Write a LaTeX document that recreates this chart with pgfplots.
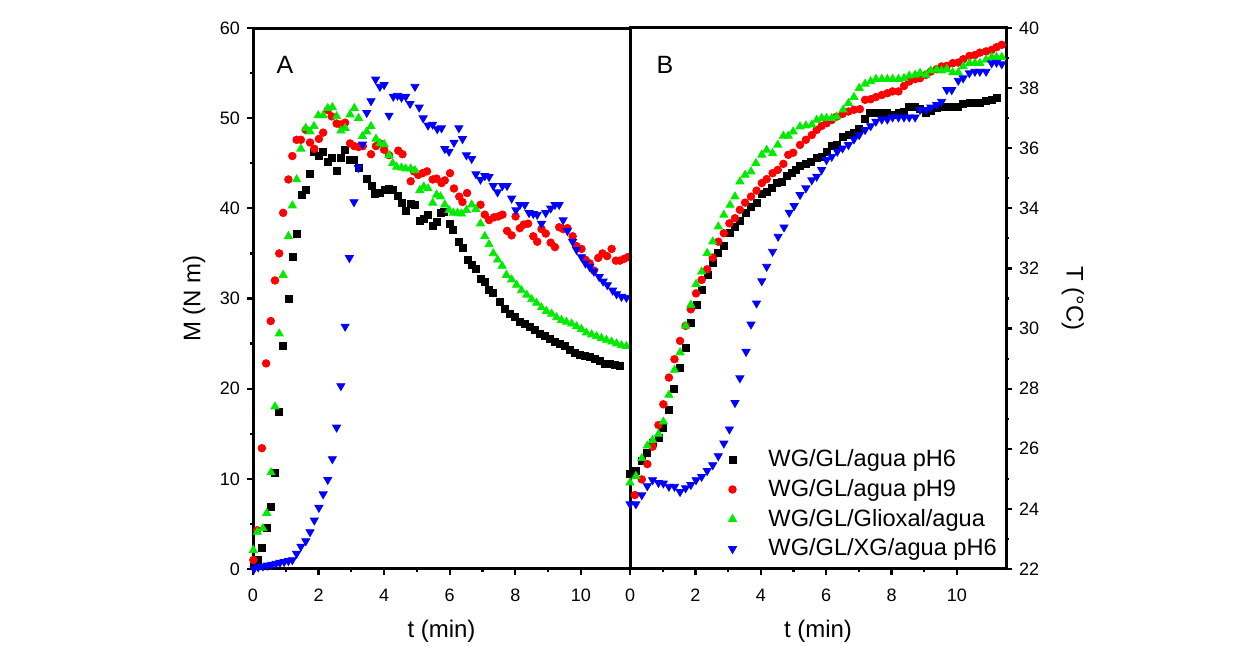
\documentclass[border=0pt]{standalone}
\usepackage{fontspec}
\setmainfont{Liberation Sans}
\usepackage{pgfplots}
\pgfplotsset{compat=1.18}
\definecolor{cgreen}{RGB}{0,235,0}
\definecolor{cred}{RGB}{255,0,0}
\definecolor{cblue}{RGB}{0,0,255}
\pgfplotsset{
  panel/.style={
    scale only axis, height=270.5pt,
    xmin=0, xmax=11.5, xtick={0,2,...,10}, minor x tick num=1,
    tick align=outside, xtick pos=left,
    major tick length=3pt, minor tick length=1.6pt,
    every tick/.style={black, line width=1.1pt},
    axis line style={line width=1.5pt},
    tick label style={font=\fontsize{9}{10}\selectfont, /pgf/number format/assume math mode=true},
    xticklabel style={yshift=-3.5pt},
    label style={font=\fontsize{12}{14}\selectfont},
    xlabel={t (min)},
    xlabel style={at={(axis description cs:0.5,-0.115)}, anchor=center},
    clip=true,
  },
  sq/.style={only marks, mark=square*, mark size=1.75pt, black, mark options={draw=black, fill=black}},
  ci/.style={only marks, mark=*, mark size=1.9pt, cred, mark options={draw=cred, fill=cred}},
  tu/.style={only marks, mark=triangle*, mark size=2.3pt, cgreen, mark options={draw=cgreen, fill=cgreen}},
  td/.style={only marks, mark=triangle*, mark size=2.3pt, cblue, mark options={draw=cblue, fill=cblue, rotate=180}},
}
\begin{document}
\begin{tikzpicture}
\path[use as bounding box] (0,0) rectangle (617.5pt,323pt);
% ---------------- Panel A ----------------
\begin{axis}[panel, at={(126.5pt,38.5pt)}, anchor=south west, width=188.5pt,
  ymin=0, ymax=60, ytick={0,10,...,60}, minor y tick num=1, ytick pos=left,
  ylabel={M (N m)},
  ylabel style={at={(axis description cs:-0.156,0.5)}, anchor=center},
]
\addplot[sq] coordinates {
(0.03,0.4) (0.16,1.0) (0.27,2.3) (0.42,4.6) (0.54,6.9) (0.67,10.7) (0.80,17.4) (0.92,24.7)
(1.08,30.0) (1.21,34.6) (1.33,37.2) (1.48,41.5) (1.62,42.0) (1.74,43.8) (1.86,46.3) (2.01,45.8)
(2.14,46.3) (2.28,45.2) (2.42,45.6) (2.55,44.1) (2.68,45.6) (2.81,46.5) (2.96,45.4) (3.09,45.4)
(3.22,44.5) (3.47,43.3) (3.62,42.5) (3.72,41.6) (3.87,41.7) (4.02,42.0) (4.16,42.2) (4.28,42.0)
(4.41,41.4) (4.55,40.6) (4.66,39.7) (4.81,40.5) (4.94,40.4) (5.09,38.6) (5.21,38.8) (5.34,39.3)
(5.48,38.0) (5.60,38.5) (5.72,39.5) (5.83,39.6) (6.01,38.3) (6.11,37.6) (6.29,36.3) (6.39,35.6)
(6.55,34.3) (6.67,33.7) (6.80,33.3) (6.94,32.2) (7.07,31.8) (7.20,30.9) (7.33,30.6) (7.53,29.6)
(7.68,28.9) (7.84,28.3) (7.99,28.0) (8.14,27.4) (8.29,27.2) (8.45,26.9) (8.60,26.5) (8.75,26.1)
(8.90,25.8) (9.05,25.5) (9.21,25.2) (9.36,25.0) (9.51,24.7) (9.66,24.3) (9.82,24.0) (9.97,23.8)
(10.12,23.6) (10.27,23.5) (10.43,23.3) (10.58,23.1) (10.73,22.8) (10.88,22.7) (11.04,22.6) (11.19,22.5)
};
\addplot[ci] coordinates {
(0.01,1.0) (0.13,4.3) (0.27,13.4) (0.40,22.8) (0.54,27.5) (0.67,32.0) (0.80,35.0) (0.92,39.5)
(1.08,43.2) (1.20,45.8) (1.33,47.6) (1.46,47.6) (1.61,48.7) (1.74,47.3) (1.87,46.6) (2.01,47.7)
(2.14,48.4) (2.28,50.9) (2.40,50.2) (2.55,49.4) (2.68,49.3) (2.81,49.5) (2.96,47.2) (3.09,46.9)
(3.22,46.8) (3.35,46.9) (3.60,46.0) (3.75,46.9) (3.87,47.2) (4.00,46.5) (4.15,45.9) (4.43,46.4)
(4.56,46.0) (4.81,43.0) (4.91,44.1) (5.04,43.7) (5.17,43.9) (5.31,44.1) (5.48,43.2) (5.60,43.3)
(5.75,42.8) (5.85,43.1) (6.01,43.9) (6.13,42.2) (6.29,41.3) (6.39,40.7) (6.53,41.7) (6.94,40.4)
(7.07,39.3) (7.20,38.7) (7.35,39.0) (7.48,39.1) (7.61,39.3) (7.75,37.5) (7.89,37.0) (8.01,39.1)
(8.14,37.8) (8.26,38.2) (8.39,38.3) (8.55,36.9) (8.67,36.3) (8.80,37.7) (8.93,37.2) (9.08,36.2)
(9.21,35.7) (9.34,37.9) (9.46,37.7) (9.59,37.8) (9.75,36.9) (9.87,35.8) (10.02,35.5) (10.14,34.3)
(10.27,33.9) (10.40,33.1) (10.53,34.5) (10.66,35.0) (10.80,34.7) (10.94,35.5) (11.07,34.2) (11.19,34.2)
(11.32,34.4) (11.44,34.6)
};
\addplot[tu] coordinates {
(0.01,2.1) (0.13,4.1) (0.30,4.5) (0.42,6.2) (0.55,10.7) (0.67,18.0) (0.80,26.1) (0.92,32.6)
(1.08,36.9) (1.20,40.3) (1.33,43.2) (1.46,46.6) (1.61,48.9) (1.74,48.5) (1.86,49.1) (1.99,50.3)
(2.14,50.3) (2.28,51.1) (2.42,51.2) (2.55,50.2) (2.68,48.6) (2.81,48.9) (2.96,50.4) (3.09,51.1)
(3.22,50.0) (3.34,48.0) (3.47,48.5) (3.60,49.1) (3.75,47.7) (3.87,47.2) (4.00,47.1) (4.15,45.9)
(4.26,45.0) (4.38,44.6) (4.53,44.5) (4.66,44.4) (4.81,44.4) (4.94,44.2) (5.09,42.0) (5.21,42.4)
(5.34,42.2) (5.48,40.6) (5.60,41.5) (5.72,41.3) (5.85,40.4) (5.98,39.8) (6.11,39.5) (6.24,39.5)
(6.36,39.4) (6.51,39.8) (6.67,40.4) (6.80,39.9) (6.94,38.3) (7.07,36.9) (7.20,36.0) (7.33,35.0)
(7.46,34.3) (7.60,33.6) (7.73,32.6) (7.89,32.1) (8.04,31.5) (8.19,30.9) (8.35,30.4) (8.50,29.9)
(8.65,29.5) (8.80,29.0) (8.95,28.6) (9.11,28.3) (9.26,27.9) (9.41,27.6) (9.56,27.4) (9.72,27.2)
(9.87,26.9) (10.02,26.6) (10.17,26.2) (10.33,26.0) (10.48,25.8) (10.63,25.6) (10.78,25.4) (10.94,25.2)
(11.09,25.0) (11.24,24.8) (11.39,24.7)
};
\addplot[td] coordinates {
(0.03,0.0) (0.16,0.2) (0.30,0.3) (0.44,0.4) (0.57,0.5) (0.70,0.6) (0.82,0.7) (0.95,0.8)
(1.08,0.9) (1.20,1.0) (1.33,1.7) (1.46,2.5) (1.61,3.1) (1.74,4.1) (1.87,5.4) (2.01,6.8)
(2.14,8.3) (2.28,9.9) (2.42,12.2) (2.55,15.7) (2.68,20.3) (2.81,26.9) (2.94,34.5) (3.08,40.7)
(3.21,44.5) (3.34,47.1) (3.47,50.6) (3.60,51.9) (3.74,54.3) (3.87,53.5) (4.00,53.7) (4.15,50.3)
(4.28,52.4) (4.41,52.5) (4.53,52.3) (4.66,52.4) (4.79,51.6) (4.94,53.5) (5.07,51.2) (5.19,50.0)
(5.34,49.2) (5.48,49.3) (5.62,48.8) (5.75,48.9) (5.85,46.6) (5.98,46.3) (6.13,47.3) (6.28,48.9)
(6.39,47.7) (6.51,45.9) (6.67,45.5) (6.80,43.8) (6.94,43.2) (7.07,43.6) (7.20,43.5) (7.33,42.5)
(7.46,41.8) (7.61,42.5) (7.75,42.5) (7.89,41.1) (8.02,39.8) (8.14,40.4) (8.29,40.4) (8.42,39.5)
(8.55,39.4) (8.67,39.3) (8.80,38.3) (8.93,39.5) (9.08,40.0) (9.21,40.4) (9.34,40.4) (9.46,38.7)
(9.59,37.5) (9.75,36.3) (9.87,35.4) (10.02,34.6) (10.14,33.9) (10.27,33.5) (10.40,33.0) (10.56,32.4)
(10.68,31.9) (10.81,31.5) (10.97,30.9) (11.09,30.5) (11.24,30.2) (11.39,30.1)
};
\node[font=\fontsize{12.5}{14}\selectfont] at (axis description cs:0.085,0.932) {A};
\end{axis}
% ---------------- Panel B ----------------
\begin{axis}[panel, at={(315pt,38.5pt)}, anchor=south west, width=188pt,
  ymin=22, ymax=40, ytick={22,24,...,40}, minor y tick num=1,
  ytick pos=right, yticklabel pos=right,
  ylabel={T (°C)},
  ylabel style={at={(axis description cs:1.178,0.5)}, anchor=center, rotate=180},
  legend style={at={(axis description cs:0.245,0.236)}, anchor=north west, draw=none, fill=none,
    font=\fontsize{11.8}{13}\selectfont, row sep=0.8pt,
    /tikz/every odd column/.append style={column sep=14pt}},
  legend cell align=left,
]
\addplot[sq] coordinates {
(0.00,25.18) (0.18,25.27) (0.36,25.60) (0.51,25.87) (0.69,26.18) (0.87,26.35) (1.02,26.68) (1.19,27.29)
(1.35,27.98) (1.53,28.68) (1.70,29.36) (1.86,30.18) (2.04,30.79) (2.19,31.30) (2.38,31.78) (2.53,32.17)
(2.70,32.51) (2.87,32.75) (3.06,33.17) (3.21,33.39) (3.36,33.58) (3.55,33.86) (3.70,34.06) (3.87,34.19)
(4.03,34.48) (4.18,34.56) (4.33,34.67) (4.49,34.86) (4.64,34.89) (4.79,35.08) (4.94,35.17) (5.08,35.28)
(5.20,35.41) (5.38,35.48) (5.54,35.55) (5.71,35.67) (5.86,35.72) (6.01,35.89) (6.17,36.08) (6.32,36.11)
(6.50,36.39) (6.68,36.44) (6.85,36.52) (7.01,36.63) (7.19,36.96) (7.34,37.18) (7.52,37.18) (7.70,37.18)
(7.87,37.18) (8.03,37.11) (8.21,37.16) (8.38,37.22) (8.54,37.36) (8.72,37.36) (8.87,37.30) (9.05,37.18)
(9.20,37.25) (9.38,37.33) (9.53,37.36) (9.69,37.36) (9.87,37.36) (10.04,37.36) (10.19,37.47) (10.38,37.50)
(10.55,37.50) (10.70,37.50) (10.89,37.57) (11.06,37.61) (11.21,37.68)
};
\addlegendentry{WG/GL/agua pH6}
\addplot[ci] coordinates {
(0.15,24.46) (0.36,24.98) (0.53,25.49) (0.69,26.07) (0.87,26.79) (1.02,27.48) (1.19,28.37) (1.36,28.98)
(1.53,29.59) (1.70,30.09) (1.86,30.64) (2.02,31.17) (2.19,31.62) (2.36,31.97) (2.53,32.36) (2.70,32.89)
(2.87,33.17) (3.04,33.50) (3.21,33.67) (3.36,33.95) (3.52,34.19) (3.70,34.39) (3.87,34.59) (4.03,34.84)
(4.18,34.97) (4.36,35.17) (4.52,35.28) (4.69,35.48) (4.84,35.78) (4.99,35.85) (5.20,36.11) (5.38,36.28)
(5.56,36.44) (5.71,36.61) (5.86,36.74) (6.01,36.83) (6.17,36.94) (6.32,37.05) (6.50,37.14) (6.68,37.22)
(6.85,37.28) (7.03,37.30) (7.19,37.61) (7.36,37.63) (7.52,37.70) (7.70,37.77) (7.87,37.83) (8.03,37.89)
(8.21,37.89) (8.38,38.07) (8.54,38.22) (8.72,38.30) (8.87,38.33) (9.05,38.44) (9.20,38.55) (9.38,38.63)
(9.53,38.72) (9.69,38.74) (9.87,38.83) (10.04,38.85) (10.19,38.96) (10.38,39.07) (10.55,39.10) (10.70,39.18)
(10.89,39.22) (11.06,39.27) (11.21,39.36) (11.37,39.44)
};
\addlegendentry{WG/GL/agua pH9}
\addplot[tu] coordinates {
(0.00,24.87) (0.18,25.09) (0.36,25.68) (0.53,26.10) (0.69,26.29) (0.87,26.49) (1.02,26.90) (1.19,27.79)
(1.36,28.62) (1.53,29.20) (1.70,30.09) (1.86,30.79) (2.02,31.48) (2.19,31.89) (2.36,32.51) (2.53,32.89)
(2.70,33.39) (2.87,33.78) (3.06,34.11) (3.21,34.39) (3.36,34.89) (3.52,35.11) (3.70,35.22) (3.85,35.50)
(4.03,35.78) (4.18,35.94) (4.36,35.83) (4.52,36.11) (4.69,36.41) (4.84,36.41) (4.99,36.55) (5.20,36.72)
(5.38,36.75) (5.56,36.78) (5.71,36.94) (5.86,37.00) (6.01,37.00) (6.17,37.00) (6.32,37.05) (6.52,37.28)
(6.68,37.50) (6.85,37.70) (7.01,38.00) (7.19,38.14) (7.36,38.22) (7.52,38.30) (7.70,38.30) (7.87,38.30)
(8.03,38.30) (8.21,38.30) (8.38,38.33) (8.54,38.41) (8.72,38.44) (8.87,38.50) (9.05,38.44) (9.20,38.58)
(9.38,38.61) (9.53,38.58) (9.69,38.63) (9.87,38.52) (10.04,38.52) (10.19,38.72) (10.38,38.83) (10.55,38.83)
(10.70,38.83) (10.89,38.94) (11.06,39.03) (11.21,39.03) (11.37,39.03)
};
\addlegendentry{WG/GL/Glioxal/agua}
\addplot[td] coordinates {
(0.00,24.16) (0.18,24.16) (0.36,24.46) (0.53,24.76) (0.69,24.96) (0.87,24.87) (1.02,24.85) (1.19,24.74)
(1.36,24.74) (1.53,24.57) (1.70,24.69) (1.86,24.80) (2.02,24.96) (2.19,25.07) (2.36,25.27) (2.53,25.46)
(2.70,25.76) (2.87,26.18) (3.04,26.65) (3.21,27.53) (3.36,28.35) (3.55,29.23) (3.70,30.14) (3.87,30.84)
(4.03,31.58) (4.18,32.06) (4.36,32.56) (4.53,33.06) (4.71,33.37) (4.87,33.86) (5.02,34.08) (5.20,34.45)
(5.38,34.67) (5.56,34.94) (5.71,35.06) (5.86,35.28) (6.01,35.61) (6.17,35.72) (6.34,35.89) (6.50,36.00)
(6.68,36.11) (6.85,36.30) (7.01,36.44) (7.19,36.61) (7.36,36.74) (7.52,36.89) (7.70,36.96) (7.87,36.96)
(8.03,37.03) (8.21,37.03) (8.38,37.03) (8.54,37.03) (8.72,37.03) (8.87,37.28) (9.05,37.28) (9.20,37.36)
(9.38,37.44) (9.53,37.55) (9.69,37.94) (9.84,37.94) (10.04,38.25) (10.19,38.33) (10.38,38.50) (10.55,38.55)
(10.70,38.55) (10.89,38.55) (11.06,38.83) (11.21,38.85) (11.37,38.80)
};
\addlegendentry{WG/GL/XG/agua pH6}
\node[font=\fontsize{12.5}{14}\selectfont] at (axis description cs:0.093,0.932) {B};
\end{axis}
\end{tikzpicture}
\end{document}
